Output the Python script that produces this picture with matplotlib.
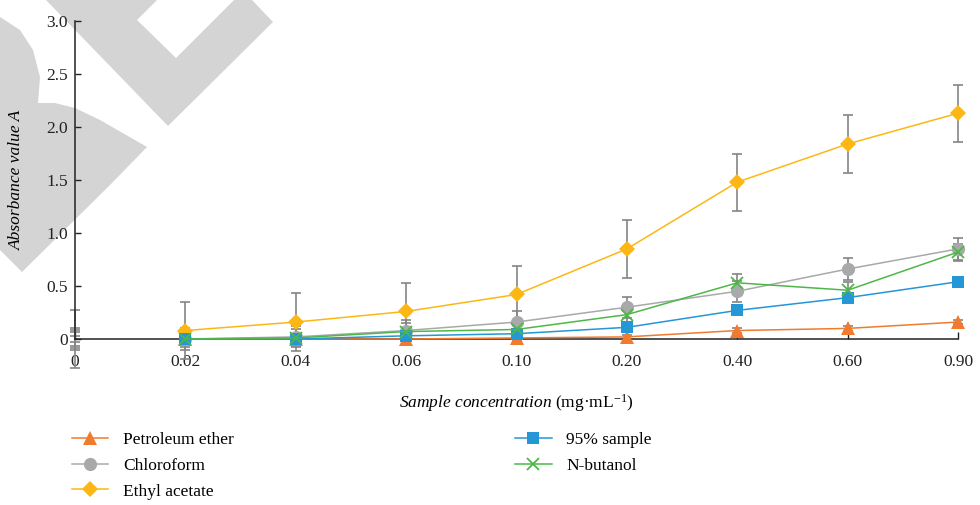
import numpy as np
import matplotlib
matplotlib.use("Agg")
import matplotlib.pyplot as plt
from matplotlib.patches import Polygon

plt.rcParams['font.family'] = ['Liberation Serif', 'DejaVu Serif']
plt.rcParams['mathtext.fontset'] = 'custom'
plt.rcParams['mathtext.rm'] = 'Liberation Serif'
plt.rcParams['mathtext.it'] = 'Liberation Serif:italic'

# data
conc = ['0', '0.02', '0.04', '0.06', '0.10', '0.20', '0.40', '0.60', '0.90']
names = ['Petroleum ether', 'Chloroform', 'Ethyl acetate', '95% sample', 'N-butanol']
petroleum = [0.00, 0.00, 0.00, 0.01, 0.02, 0.08, 0.10, 0.16]
chloroform = [0.00, 0.02, 0.08, 0.16, 0.30, 0.45, 0.66, 0.85]
ethyl = [0.08, 0.16, 0.26, 0.42, 0.85, 1.48, 1.84, 2.13]
sample95 = [0.00, 0.00, 0.03, 0.05, 0.11, 0.27, 0.39, 0.54]
butanol = [0.00, 0.01, 0.07, 0.09, 0.23, 0.53, 0.46, 0.82]
errs = [0.02, 0.10, 0.27, 0.03, 0.08]
zero_errs = [0.10, 0.07, 0.27, 0.03, 0.085]   # bars drawn at c=0 (no value there)

colors = ['#F07A2E', '#A8A9AB', '#FDB714', '#2596D6', '#4DB848']
markers = ['^', 'o', 'D', 's', 'x']
msizes = [9.5, 9.5, 8.5, 8.5, 9]
series = [petroleum, chloroform, ethyl, sample95, butanol]

fig = plt.figure(figsize=(9.8, 5.05), dpi=100)

# watermark (pixel coords of the 980x505 picture)
wm = '#D4D4D4'
shapeA = [(46, 0), (157, 0), (137, 20), (176, 58), (234, 0), (252, 0),
          (273, 22), (168, 126)]
shapeB = [(0, 17), (20, 30), (33, 50), (40, 77), (38, 103),
          (55, 103), (75, 108), (100, 120), (147, 147), (110, 185), (22, 272), (0, 250)]
for shp in (shapeA, shapeB):
    pts = [(x / 980, 1 - y / 505) for x, y in shp]
    fig.patches.append(Polygon(pts, closed=True, transform=fig.transFigure,
                               facecolor=wm, edgecolor='none', zorder=-5))

ax = fig.add_axes([75 / 980, 1 - 339 / 505, 883 / 980, 318 / 505])
ax.set_facecolor('none')

xs = np.arange(1, len(conc))
for i in range(len(names)):
    ax.errorbar([0], [0], yerr=[zero_errs[i]], fmt='none', ecolor='#858585',
                elinewidth=1.2, capsize=3.3, capthick=1.2, clip_on=False, zorder=2)
    eb = ax.errorbar(xs, series[i], yerr=errs[i], fmt='none', ecolor='#858585',
                     elinewidth=1.2, capsize=3.3, capthick=1.2, zorder=2)
    for art in eb.lines[1] + eb.lines[2]:
        art.set_clip_on(False)
    ax.plot(xs, series[i], color=colors[i], lw=1.1, marker=markers[i],
            ms=msizes[i], mew=1.3 if markers[i] == 'x' else 0,
            label=names[i], clip_on=False, zorder=3)

ax.set_xlim(0, 8)
ax.set_ylim(0, 3)
ax.set_xticks(np.arange(len(conc)))
ax.set_xticklabels(conc)
ax.set_yticks([0, 0.5, 1.0, 1.5, 2.0, 2.5, 3.0])
ax.set_yticklabels(['0', '0.5', '1.0', '1.5', '2.0', '2.5', '3.0'])
ax.tick_params(axis='both', direction='in', labelsize=12.5, width=1, colors='#222222')
ax.tick_params(axis='x', length=5, pad=11)
ax.tick_params(axis='y', length=4, pad=5)
ax.spines['top'].set_visible(False)
ax.spines['right'].set_visible(False)
for s in ('left', 'bottom'):
    ax.spines[s].set_color('#222222')
    ax.spines[s].set_linewidth(1.1)

ax.set_ylabel('Absorbance value A', fontsize=12.5, style='italic')
ax.yaxis.set_label_coords(-50 / 883, 0.5)
ax.set_xlabel(r'$\mathit{Sample\ concentration}$ (mg·mL$^{-1}$)', fontsize=12.5)
ax.xaxis.set_label_coords(0.5, -53 / 318)

fig.legend(loc='upper left', bbox_to_anchor=(72 / 980, 1 - 432 / 505), ncol=2,
           frameon=False, fontsize=12.5, handlelength=2.1, handletextpad=0.85,
           columnspacing=16.2, labelspacing=0.55, borderpad=0, borderaxespad=0)

fig.savefig('out.png', dpi=100)
